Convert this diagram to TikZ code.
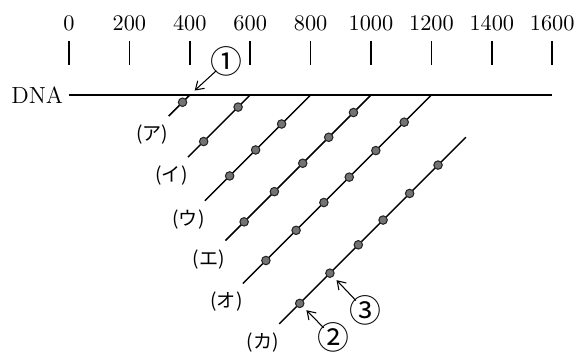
\documentclass[tikz,border=0pt]{standalone}
\usepackage{fontspec}
\newfontfamily\jpfont{Noto Sans CJK JP}
\usetikzlibrary{positioning,arrows.meta}

\begin{document}
\begin{tikzpicture}[
    >={Straight Barb[length=1.3mm,width=1.7mm]},
    dot/.style={circle, fill=black!55, draw=black!85, line width=0.5pt, inner sep=0pt, minimum size=0.14cm},
    strand/.style={line width=0.7pt},
    kana/.style={font=\jpfont\fontsize{9}{10}\selectfont, inner sep=0pt},
    circnum/.style={circle, font=\jpfont\fontsize{15}{16}\selectfont, inner sep=-3pt},
    pointer/.style={->, line width=0.5pt, shorten >=0.08cm}
  ]
  \useasboundingbox (-1.142,-4.272) rectangle (8.427,1.573);

  % Scale
  \foreach \x [count=\i from 0] in {0,200,...,1600} {
    \node[font=\fontsize{10.5}{12}\selectfont] (s\i) at (\i,1.19) {\x};
    \draw[line width=0.7pt] (\i,0.89) -- (\i,0.50);
  }

  % DNA
  \node[left, inner sep=2.6pt, font=\fontsize{11}{13}\selectfont] (dna) at (0,0) {DNA};
  \coordinate (dnaend) at (8,0);
  \draw[line width=0.95pt] (dna) -- (dnaend);

  % Strands still on the DNA
  \foreach \n/\x/\l in {A/2/0.35, B/3/1.03, C/4/1.75, D/5/2.41, E/6/3.12} {
    \coordinate (t\n) at (\x,0);
    \coordinate (e\n) at (\x-\l,-\l);
    \draw[strand] (t\n) -- (e\n);
  }
  % Released strand
  \coordinate (tF) at (6.57,-0.70);
  \coordinate (eF) at (3.48,-3.79);
  \draw[strand] (tF) -- (eF);

  % Dots on the strands
  \foreach \d [count=\i] in {0.12}
    \node[dot] (dA\i) at ([shift={(-\d,-\d)}]tA) {};
  \foreach \d [count=\i] in {0.20,0.77}
    \node[dot] (dB\i) at ([shift={(-\d,-\d)}]tB) {};
  \foreach \d [count=\i] in {0.48,0.91,1.34}
    \node[dot] (dC\i) at ([shift={(-\d,-\d)}]tC) {};
  \foreach \d [count=\i] in {0.29,0.70,1.13,1.60,2.10}
    \node[dot] (dD\i) at ([shift={(-\d,-\d)}]tD) {};
  \foreach \d [count=\i] in {0.45,0.92,1.36,1.78,2.24,2.74}
    \node[dot] (dE\i) at ([shift={(-\d,-\d)}]tE) {};
  \foreach \d [count=\i] in {0.46,0.93,1.37,1.78,2.25,2.75}
    \node[dot] (dF\i) at ([shift={(-\d,-\d)}]tF) {};

  % Labels
  \node[kana, below left=0.14 and 0.0 of eA] (lA) {(ア)};
  \node[kana, below left=0.14 and 0.0 of eB] (lB) {(イ)};
  \node[kana, below left=0.14 and 0.0 of eC] (lC) {(ウ)};
  \node[kana, below left=0.14 and 0.0 of eD] (lD) {(エ)};
  \node[kana, below left=0.14 and 0.0 of eE] (lE) {(オ)};
  \node[kana, below left=0.14 and 0.0 of eF] (lF) {(カ)};

  % Pointers
  \node[circnum] (n1) at (2.60,0.55) {①};
  \node[circnum] (n2) at (4.37,-4.01) {②};
  \node[circnum] (n3) at (4.90,-3.56) {③};
  \draw[pointer, shorten >=0.11cm] (n1) -- (tA);
  \draw[pointer] (n2) -- (dF6);
  \draw[pointer] (n3) -- (dF5);

\end{tikzpicture}
\end{document}
